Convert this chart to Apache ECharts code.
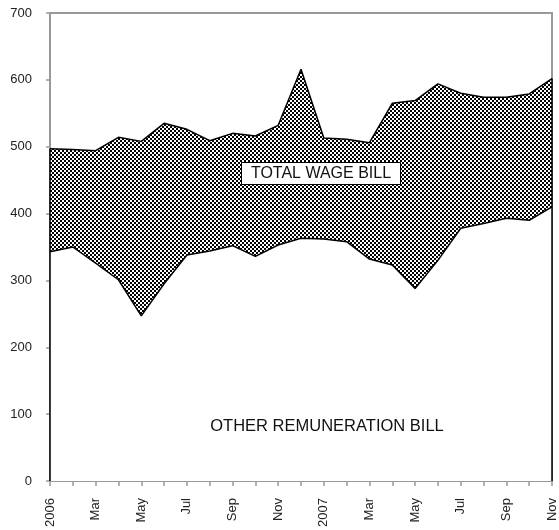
<!DOCTYPE html>
<html>
<head>
<meta charset="utf-8">
<script src="https://cdn.jsdelivr.net/npm/echarts@6/dist/echarts.min.js"></script>
<style>html,body{margin:0;padding:0;background:#fff}#c{width:559px;height:530px}</style>
</head>
<body>
<div id="c"></div>
<script>
const months = ['2006','Feb','Mar','Apr','May','Jun','Jul','Aug','Sep','Oct','Nov','Dec','2007','Feb','Mar','Apr','May','Jun','Jul','Aug','Sep','Oct','Nov'];
const totalWageBill = [497,496,494,514,508,535,526,509,520,516,532,616,513,511,506,565,569,594,580,574,574,579,602];
const otherRemuneration = [343,350,326,301,247,295,338,344,352,336,353,363,362,358,332,323,288,330,378,385,393,390,410];
const yTicks = {min: 0, max: 700, interval: 100};
const labelTotal = 'TOTAL WAGE BILL';
const labelOther = 'OTHER REMUNERATION BILL';

const pc = document.createElement('canvas');
pc.width = 4; pc.height = 4;
const px = pc.getContext('2d');
px.fillStyle = '#fff'; px.fillRect(0,0,4,4);
px.fillStyle = '#000'; px.fillRect(0,0,2,2); px.fillRect(2,2,2,2);

const last = months.length - 1;
const font = "'Liberation Sans', Arial, sans-serif";
const chart = echarts.init(document.getElementById('c'), null, {renderer: 'canvas'});
chart.setOption({
  animation: false,
  backgroundColor: '#fff',
  grid: {left: 50, right: 7, top: 13, bottom: 49, show: true, borderColor: '#999', borderWidth: 2, backgroundColor: 'transparent'},
  xAxis: {
    type: 'category', data: months, boundaryGap: false,
    axisLine: {lineStyle: {color: '#999', width: 2}},
    axisTick: {show: true, interval: 0, length: 5, lineStyle: {color: '#999', width: 1.5}},
    axisLabel: {interval: 1, rotate: 90, margin: 17, fontSize: 13, color: '#222', fontFamily: font}
  },
  yAxis: {
    type: 'value', min: yTicks.min, max: yTicks.max, interval: yTicks.interval,
    axisLine: {show: true, lineStyle: {color: '#999', width: 2}},
    axisTick: {show: true, length: 4, lineStyle: {color: '#999', width: 1.5}},
    splitLine: {show: false},
    axisLabel: {margin: 18, fontSize: 13, color: '#222', fontFamily: font}
  },
  series: [
    {
      type: 'line', data: totalWageBill, symbol: 'none', z: 2,
      lineStyle: {color: '#000', width: 1.5},
      areaStyle: {color: {image: pc, repeat: 'repeat'}, opacity: 1}
    },
    {
      type: 'line', data: otherRemuneration, symbol: 'none', z: 3,
      lineStyle: {color: '#000', width: 1.5},
      areaStyle: {color: '#fff', opacity: 1},
      markLine: {
        silent: true, symbol: 'none', label: {show: false},
        lineStyle: {color: '#000', width: 1.5, type: 'solid'},
        data: [
          [{coord: [0, 0]}, {coord: [0, totalWageBill[0]]}],
          [{coord: [last, 0]}, {coord: [last, totalWageBill[last]]}]
        ]
      }
    }
  ],
  graphic: [
    {type: 'rect', shape: {x: 241.5, y: 162.5, width: 159, height: 22}, style: {fill: '#fff', stroke: '#000', lineWidth: 1}, z: 10},
    {type: 'text', x: 321, y: 174, style: {text: labelTotal, font: "16px 'Liberation Sans', Arial, sans-serif", fill: '#111', textAlign: 'center', textVerticalAlign: 'middle'}, z: 11},
    {type: 'text', x: 327, y: 426, style: {text: labelOther, font: "16.5px 'Liberation Sans', Arial, sans-serif", fill: '#111', textAlign: 'center', textVerticalAlign: 'middle'}, z: 11}
  ]
});
</script>
</body>
</html>
